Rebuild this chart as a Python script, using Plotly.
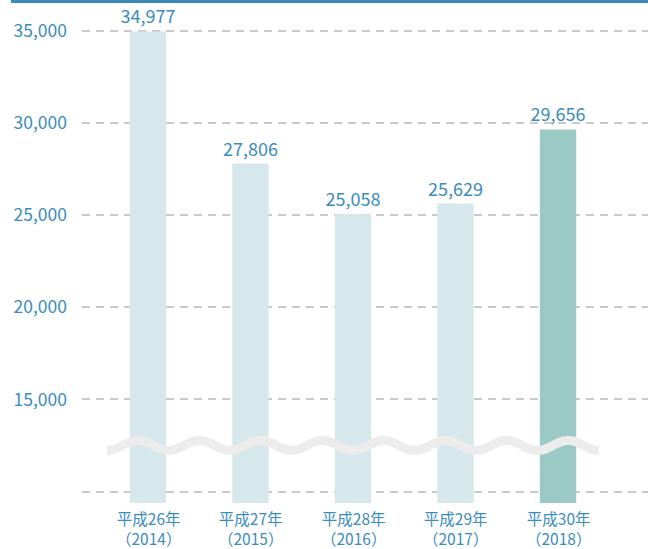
import numpy as np
import plotly.graph_objects as go

# ---- data ----
era_labels = ["平成26年", "平成27年", "平成28年", "平成29年", "平成30年"]
year_labels = ["（2014）", "（2015）", "（2016）", "（2017）", "（2018）"]
values = [34977, 27806, 25058, 25629, 29656]
ytick_vals = [10000, 15000, 20000, 25000, 30000, 35000]
ytick_text = ["", "15,000", "20,000", "25,000", "30,000", "35,000"]

# ---- style ----
W, H = 648, 549
ML, MR, MT, MB = 82, 0, 10, 46
FONT = "Noto Sans CJK JP"
BLUE = "#3a8cbc"
bar_colors = ["#d6e8eb"] * 4 + ["#9bc9c6"]

x_idx = list(range(len(era_labels)))
plot_h = H - MT - MB
plot_w = W - ML - MR

fig = go.Figure()
fig.add_trace(go.Bar(
    x=x_idx, y=values, width=0.355,
    marker=dict(color=bar_colors, line=dict(width=0)),
    text=[f"{v:,}" for v in values], textposition="outside",
    constraintext="none",
    textfont=dict(family=FONT, size=18, color=BLUE),
    cliponaxis=False, hoverinfo="skip",
))

# axis-break wave (decoration)
wx = np.linspace(-0.4, 4.4, 600)
wy = 12500 - 270 * np.cos(2 * np.pi * (wx + 0.4) / 0.6)
fig.add_trace(go.Scatter(x=wx, y=wy, mode="lines",
                         line=dict(color="#ececec", width=9, shape="spline"),
                         hoverinfo="skip", showlegend=False))

# top blue rule
fig.add_shape(type="rect", xref="paper", yref="paper",
              x0=(11 - ML) / plot_w, x1=1.0,
              y0=1 + (MT - 3) / plot_h, y1=1 + MT / plot_h,
              fillcolor="#3a89b6", line=dict(width=0), layer="above")

# two-line category labels
for xi, era, yr in zip(x_idx, era_labels, year_labels):
    fig.add_annotation(x=xi, y=-(527.5 - (H - MB)) / plot_h, xref="x", yref="paper",
                       text=f"{era}<br>{yr}", showarrow=False, yanchor="middle",
                       borderpad=0,
                       font=dict(family=FONT, size=15.5, color=BLUE))

fig.update_layout(
    width=W, height=H,
    margin=dict(l=ML, r=MR, t=MT, b=MB, autoexpand=False),
    paper_bgcolor="white", plot_bgcolor="white",
    showlegend=False,
    font=dict(family=FONT, color=BLUE),
    xaxis=dict(range=[-0.644, 4.878], tickvals=x_idx, showticklabels=False,
               showgrid=False, zeroline=False, showline=False,
               automargin=False),
    yaxis=dict(range=[9376, 36140], tickvals=ytick_vals, ticktext=ytick_text,
               showgrid=True, gridcolor="#c9c9c9", gridwidth=1.5,
               griddash="8px,6px", zeroline=False, showline=False,
               automargin=False, ticklabelstandoff=14,
               tickfont=dict(family=FONT, size=17.5, color=BLUE)),
)

fig.write_html("out.html", config={"displayModeBar": False},
               post_script="document.body.style.margin='0';document.body.style.overflow='hidden';")
